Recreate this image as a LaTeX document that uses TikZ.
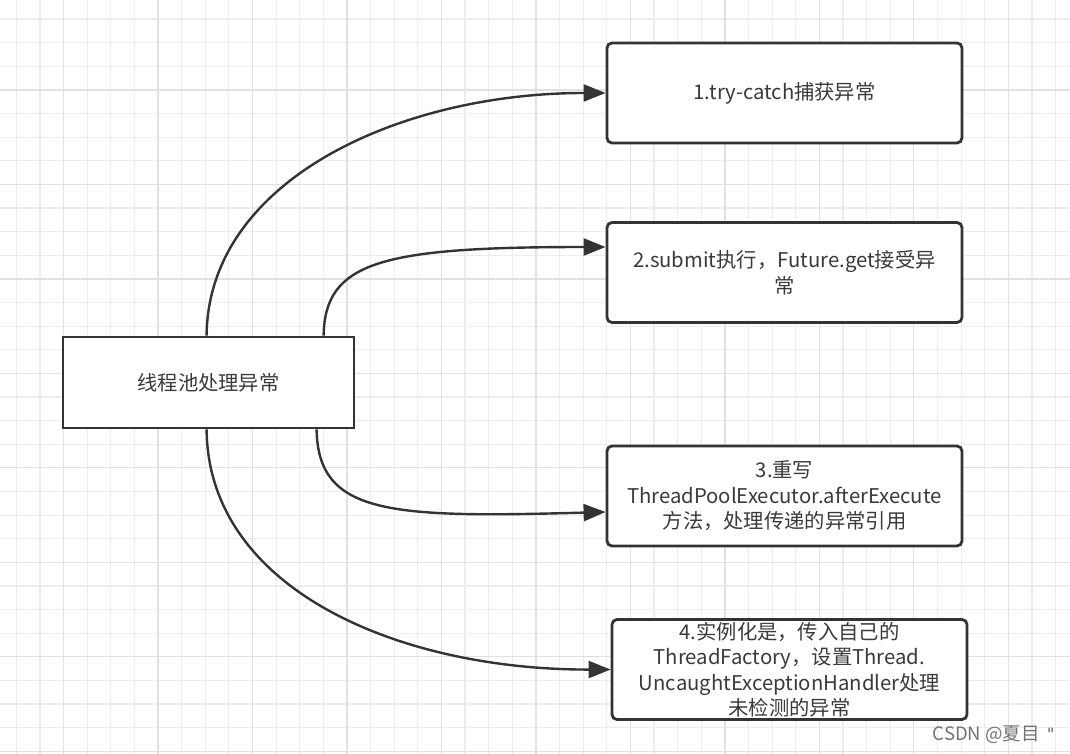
\documentclass[tikz,border=0pt]{standalone}
\usepackage{fontspec}
\setmainfont{Noto Sans CJK SC}
\newfontfamily\qfont{DejaVu Sans}
\usetikzlibrary{arrows.meta}
\definecolor{gridminor}{HTML}{EDEDED}
\definecolor{gridmajor}{HTML}{E1E1E1}
\definecolor{ink}{HTML}{333333}
\definecolor{txt}{HTML}{3A3A3A}
\begin{document}
\begin{tikzpicture}[x=1pt,y=-1pt,
  box/.style={draw=ink, line width=2.8pt, fill=white, text=txt, align=center,
    inner sep=0pt, font=\fontsize{20.3}{25.5}\selectfont},
  rbox/.style={box, rounded corners=5pt, minimum width=355pt, minimum height=100pt},
  conn/.style={draw=ink, line width=2.4pt, -{Triangle[length=22pt,width=17pt]}},
  wmark/.style={text=black!55, font=\fontsize{18.5}{20}\selectfont, inner sep=0pt}]
\useasboundingbox (0,0) rectangle (1070,754);
\fill[white] (0,0) rectangle (1070,754);
% grid
\foreach \i in {0,...,45} {
  \draw[gridminor, line width=1.2pt] ({16.3+23.62*\i},0) -- ({16.3+23.62*\i},754);
}
\foreach \i in {0,...,32} {
  \draw[gridminor, line width=1.2pt] (0,{19.1+23.62*\i}) -- (1070,{19.1+23.62*\i});
}
\foreach \i in {0,...,11} {
  \draw[gridmajor, line width=1.2pt] ({16.3+23.62*(4*\i+2)},0) -- ({16.3+23.62*(4*\i+2)},754);
}
\foreach \i in {0,...,8} {
  \draw[gridmajor, line width=1.2pt] (0,{19.1+23.62*(4*\i+3)}) -- (1070,{19.1+23.62*(4*\i+3)});
}
% nodes
\node[box, minimum width=291pt, minimum height=91pt] (main) at (208.5,382.5) {线程池处理异常};
\node[rbox] (b1) at (784.5,93) {1.try-catch捕获异常};
\node[rbox] (b2) at (784.5,272.5) {2.submit执行，Future.get接受异\\常};
\node[rbox] (b3) at (784.5,496) {3.重写\\ThreadPoolExecutor.afterExecute\\方法，处理传递的异常引用};
\node[rbox] (b4) at (789.5,669.5) {4.实例化是，传入自己的\\ThreadFactory，设置Thread.\\UncaughtExceptionHandler处理\\未检测的异常};
% connectors
\draw[conn] ([xshift=145pt]main.north west) .. controls (208,180) and (400,93) .. (b1.west);
\draw[conn] ([xshift=262pt]main.north west) .. controls (325,262) and (380,247) .. ([yshift=25.5pt]b2.west);
\draw[conn] ([xshift=255pt]main.south west) .. controls (318,515) and (390,518) .. ([yshift=-16pt]b3.west);
\draw[conn] ([xshift=145pt]main.south west) .. controls (208,590) and (400,670) .. (b4.west);
% watermark
\node[wmark, anchor=east] (wm) at (1055,735) {CSDN @夏目\hspace{7pt}{\qfont\fontsize{17}{20}\selectfont "}};
\end{tikzpicture}
\end{document}
